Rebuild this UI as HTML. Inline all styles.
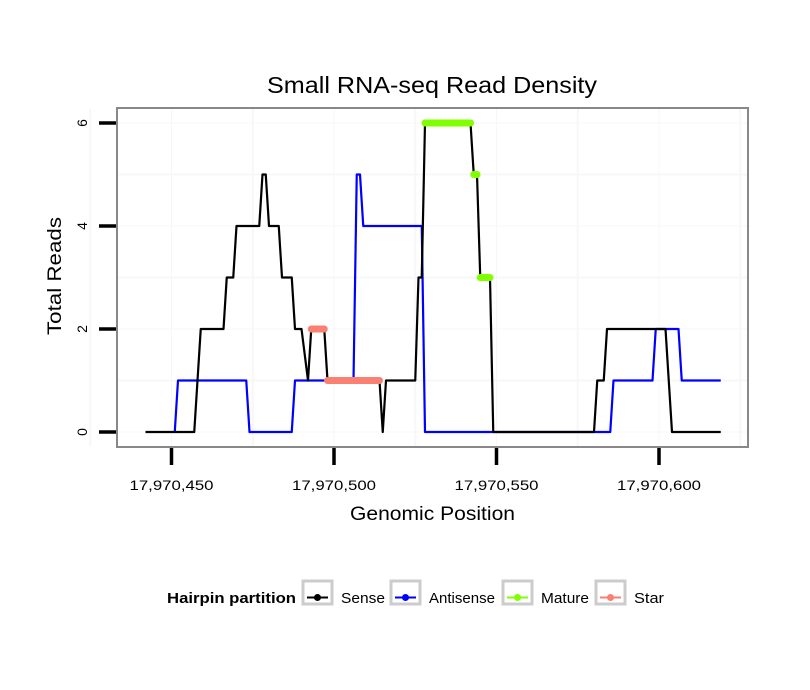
<!DOCTYPE html>
<html><head><meta charset="utf-8"><style>
body{margin:0;background:#fff;}
svg{display:block;font-family:"Liberation Sans",sans-serif;}
</style></head><body>
<svg id="chart" width="810" height="690" viewBox="0 0 810 690">
<text x="267" y="93" font-size="23" textLength="330" lengthAdjust="spacingAndGlyphs">Small RNA-seq Read Density</text>
<g id="grid"></g>
<g id="series"></g>
<rect x="117" y="108" width="631" height="339" fill="none" stroke="#888" stroke-width="2"/>
<g id="axes"></g>
<text x="350" y="520" font-size="19" textLength="165" lengthAdjust="spacingAndGlyphs">Genomic Position</text>
<text transform="translate(61,335) rotate(-90)" font-size="19" textLength="118" lengthAdjust="spacingAndGlyphs">Total Reads</text>
<g font-size="15">
<text x="167" y="603" font-weight="bold" textLength="129" lengthAdjust="spacingAndGlyphs">Hairpin partition</text>
<g><rect x="303" y="581" width="29" height="23" fill="#fff" stroke="#ccc" stroke-width="3"/><line x1="307" y1="597.5" x2="328" y2="597.5" stroke="#000" stroke-width="2"/><circle cx="317.5" cy="597.5" r="3.5" fill="#000"/><text x="341" y="603" textLength="44" lengthAdjust="spacingAndGlyphs">Sense</text></g>
<g><rect x="391" y="581" width="29" height="23" fill="#fff" stroke="#ccc" stroke-width="3"/><line x1="395" y1="597.5" x2="416" y2="597.5" stroke="#00f" stroke-width="2"/><circle cx="405.5" cy="597.5" r="3.5" fill="#00f"/><text x="429" y="603" textLength="66" lengthAdjust="spacingAndGlyphs">Antisense</text></g>
<g><rect x="503" y="581" width="29" height="23" fill="#fff" stroke="#ccc" stroke-width="3"/><line x1="507" y1="597.5" x2="528" y2="597.5" stroke="#7fff00" stroke-width="2"/><circle cx="517.5" cy="597.5" r="3.5" fill="#7fff00"/><text x="541" y="603" textLength="48" lengthAdjust="spacingAndGlyphs">Mature</text></g>
<g><rect x="596" y="581" width="29" height="23" fill="#fff" stroke="#ccc" stroke-width="3"/><line x1="600" y1="597.5" x2="621" y2="597.5" stroke="#fa8072" stroke-width="2"/><circle cx="610.5" cy="597.5" r="3.5" fill="#fa8072"/><text x="634" y="603" textLength="30" lengthAdjust="spacingAndGlyphs">Star</text></g>
</g>
</svg>
<script>
// positions are offsets from 17,970,000
const sensePos = [442,457,459,466,467,469,470,477,478,479,480,483,484,487,488,490,492,493,497,498,514,515,516,525,526,527,528,542,543,544,545,548,549,580,581,583,584,602,604,619];
const senseVal = [0,0,2,2,3,3,4,4,5,5,4,4,3,3,2,2,1,2,2,1,1,0,1,1,3,3,6,6,5,5,3,3,0,0,1,1,2,2,0,0];
const antiPos = [451,452,473,474,487,488,506,507,508,509,527,528,585,586,598,599,606,607,619];
const antiVal = [0,1,1,0,0,1,1,5,5,4,4,0,0,1,1,2,2,1,1];
const matureStart = [528,543,545];
const matureEnd = [542,544,548];
const matureVal = [6,5,3];
const starStart = [493,498];
const starEnd = [497,514];
const starVal = [2,1];
const xTicks = [450,500,550,600];
const xTickLabels = ["17,970,450","17,970,500","17,970,550","17,970,600"];
const yTicks = [0,2,4,6];

const NS="http://www.w3.org/2000/svg";
const sx = p => 334 + (p-500)*3.25;
const sy = v => 432 - v*51.5;
function mk(tag, attrs, parent){const e=document.createElementNS(NS,tag);for(const k in attrs)e.setAttribute(k,attrs[k]);parent.appendChild(e);return e;}
const grid=document.getElementById('grid'), series=document.getElementById('series'), axes=document.getElementById('axes');
for(let v=0; v<=6; v++){const l=mk('line',{x1:118,x2:747,y1:sy(v),y2:sy(v),stroke:'#f7f7f7','stroke-width':v%2?2:1},grid);

}
for(let p=425;p<=625;p+=25){const l=mk('line',{x1:sx(p),x2:sx(p),y1:109,y2:446,stroke:'#f7f7f7','stroke-width':p%50?2:1},grid);

}
function line(pos,val,color,name){
  const d=pos.map((p,i)=>(i?'L':'M')+sx(p)+','+sy(val[i])).join(' ');
  const e=mk('path',{d:d,fill:'none',stroke:color,'stroke-width':2.2,'stroke-linejoin':'round'},series);
  
  
}
line(antiPos,antiVal,'#0000ff','antisense-line');
line(sensePos,senseVal,'#000000','sense-line');
function segs(s,e,v,color,name){
  s.forEach((p,i)=>{const l=mk('line',{x1:sx(p),x2:sx(e[i]),y1:sy(v[i]),y2:sy(v[i]),stroke:color,'stroke-width':7,'stroke-linecap':'round'},series);
  
  });
}
segs(starStart,starEnd,starVal,'#fa8072','star-segment');
segs(matureStart,matureEnd,matureVal,'#7fff00','mature-segment');
yTicks.forEach(v=>{
  const t=mk('line',{x1:99,x2:116,y1:sy(v),y2:sy(v),stroke:'#000','stroke-width':3.5},axes);
  
  
  const tx=mk('text',{transform:`translate(87,${sy(v)}) rotate(-90)`,'font-size':14,'text-anchor':'middle'},axes);
  tx.textContent=v;
  
  
});
xTicks.forEach((p,i)=>{
  const t=mk('line',{x1:sx(p),x2:sx(p),y1:448,y2:465,stroke:'#000','stroke-width':3.5},axes);
  
  
  const tx=mk('text',{x:sx(p)-42,y:490,'font-size':14,textLength:84,lengthAdjust:'spacingAndGlyphs'},axes);
  tx.textContent=xTickLabels[i];
  
  
});
</script>
</body></html>
